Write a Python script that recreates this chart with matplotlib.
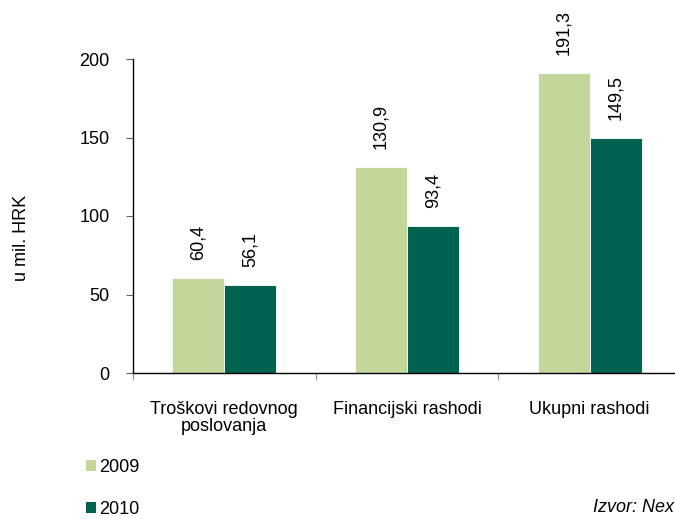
# Rashodi 2009 vs 2010, grouped bars
import matplotlib.pyplot as plt
import numpy as np
from matplotlib.patches import Patch

plt.rcParams['font.family'] = ['Liberation Sans', 'DejaVu Sans']

categories = ['Troškovi redovnog\nposlovanja', 'Financijski rashodi', 'Ukupni rashodi']
years = ['2009', '2010']
values_2009 = [60.4, 130.9, 191.3]
values_2010 = [56.1, 93.4, 149.5]
label_2009 = ['60,4', '130,9', '191,3']
label_2010 = ['56,1', '93,4', '149,5']
y_ticks = [0, 50, 100, 150, 200]

color_2009 = '#C4D79B'
color_2010 = '#006350'

fig = plt.figure(figsize=(6.75, 5.19), dpi=100)
ax = fig.add_axes([133 / 675, 146 / 519, 548 / 675, 314 / 519])

x = np.arange(len(categories)) + 0.5
w = 0.285
b1 = ax.bar(x - w / 2, values_2009, w, color=color_2009, edgecolor='white', linewidth=0.6)
b2 = ax.bar(x + w / 2, values_2010, w, color=color_2010, edgecolor='white', linewidth=0.6)

# rotated value labels above each bar
for bars, labels in ((b1, label_2009), (b2, label_2010)):
    for rect, lab in zip(bars, labels):
        ax.annotate(lab, (rect.get_x() + rect.get_width() / 2, rect.get_height()),
                    xytext=(0, 13), textcoords='offset points', rotation=90,
                    ha='center', va='bottom', fontsize=13)

ax.set_xlim(0, 3)
ax.set_ylim(0, 200)
ax.set_yticks(y_ticks)
ax.set_xticks([0, 1, 2, 3])
ax.set_xticklabels([])
ax.set_xticks(x, minor=True)
ax.set_xticklabels(categories, minor=True, fontsize=13, linespacing=1.05)
ax.tick_params(axis='x', which='minor', length=0, pad=20)
ax.tick_params(axis='x', which='major', length=5, color='#909090')
ax.tick_params(axis='y', length=5, color='#606060', pad=12, labelsize=13)

for s in ('top', 'right'):
    ax.spines[s].set_visible(False)
ax.spines['left'].set_linewidth(1.0)
ax.spines['bottom'].set_linewidth(1.0)

fig.text(21 / 675, 1 - 238 / 519, 'u mil. HRK', rotation=90, ha='center', va='center', fontsize=13)

handles = [Patch(facecolor=color_2009), Patch(facecolor=color_2010)]
fig.legend(handles, years, loc='upper left', bbox_to_anchor=(86 / 675, 1 - 459 / 519),
           frameon=False, fontsize=13, handlelength=0.55, handleheight=0.55,
           handletextpad=0.2, labelspacing=1.4, borderaxespad=0, borderpad=0)

fig.text(674 / 675, 1 - 508 / 519, 'Izvor: Nex', style='italic',
         ha='right', va='center', fontsize=13)

fig.savefig('out.png', dpi=100)
